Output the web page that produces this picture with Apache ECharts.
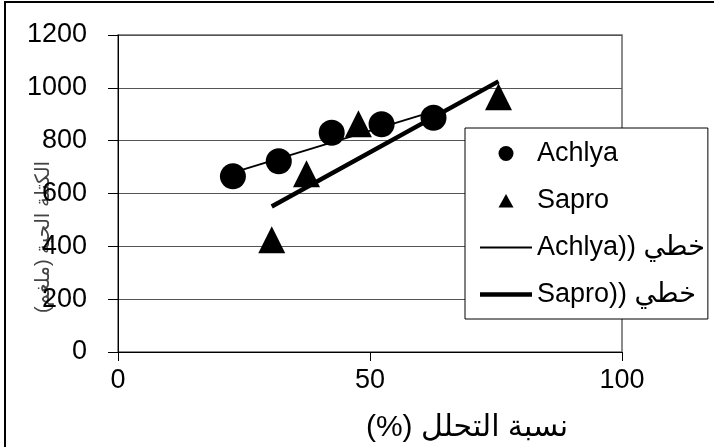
<!DOCTYPE html>
<html>
<head>
<meta charset="utf-8">
<script src="https://cdn.jsdelivr.net/npm/echarts@6/dist/echarts.min.js"></script>
<style>
  html, body { margin: 0; padding: 0; background: #fff; }
  #chart { width: 714px; height: 447px; }
</style>
</head>
<body>
<div id="chart"></div>
<script>
// Decomposition rate (%) against biomass for the two fungi
const achlyaX = [22.8, 31.9, 42.4, 52.3, 62.6];
const achlyaY = [665, 722, 830, 862, 887];
const saproX = [30.5, 37.4, 47.7, 75.5];
const saproY = [425, 675, 864, 966];

const seriesNames = ['Achlya', 'Sapro', 'Achlya)) خطي', 'Sapro)) خطي'];
const xAxisTitle = '(%) نسبة التحلل';
const yAxisTitle = 'الكتلة الحية (ملغم)';
const xTicks = [0, 50, 100];
const yTicks = [0, 200, 400, 600, 800, 1000, 1200];

const FONT = "'Liberation Sans', Arial, 'DejaVu Sans', sans-serif";

function pairs(xs, ys) {
  return xs.map((x, i) => [x, ys[i]]);
}

// Least-squares linear trend over the range of the observed x values
function linearTrend(xs, ys) {
  const n = xs.length;
  const mx = xs.reduce((a, b) => a + b, 0) / n;
  const my = ys.reduce((a, b) => a + b, 0) / n;
  let sxy = 0, sxx = 0;
  for (let i = 0; i < n; i++) {
    sxy += (xs[i] - mx) * (ys[i] - my);
    sxx += (xs[i] - mx) * (xs[i] - mx);
  }
  const slope = sxy / sxx;
  const x0 = Math.min(...xs), x1 = Math.max(...xs);
  return [[x0, my + slope * (x0 - mx)], [x1, my + slope * (x1 - mx)]];
}

// Legend icons drawn inside a fixed 52x15 box (corner points keep the box size)
const BOX = 'M0,0L0,0M52,0L52,0M52,15L52,15M0,15L0,15';
const legendTriangle = 'path://' + BOX + 'M18.5,14.5L26,1L33.5,14.5Z';
const legendThinLine = 'path://' + BOX + 'M0,6.5L52,6.5L52,8.5L0,8.5Z';
const legendThickLine = 'path://' + BOX + 'M0,5.3L52,5.3L52,9.7L0,9.7Z';

const chart = echarts.init(document.getElementById('chart'), null, { renderer: 'canvas' });

chart.setOption({
  animation: false,
  backgroundColor: '#fff',
  textStyle: { fontFamily: FONT },
  grid: {
    left: 118, right: 92, top: 35, bottom: 95,
    show: true, borderColor: '#666', borderWidth: 1.5, backgroundColor: 'transparent'
  },
  xAxis: {
    type: 'value',
    min: xTicks[0], max: xTicks[xTicks.length - 1], interval: xTicks[1] - xTicks[0],
    axisLine: { onZero: false, lineStyle: { color: '#000', width: 1 } },
    axisTick: { show: true, length: 9, lineStyle: { color: '#000' } },
    axisLabel: { color: '#000', fontSize: 27, fontFamily: FONT, margin: 15,
      formatter: (v) => String(v) },
    splitLine: { show: false }
  },
  yAxis: {
    type: 'value',
    min: yTicks[0], max: yTicks[yTicks.length - 1], interval: yTicks[1] - yTicks[0],
    axisLine: { show: true, lineStyle: { color: '#000', width: 1 } },
    axisTick: { show: true, length: 10, lineStyle: { color: '#000' } },
    axisLabel: { color: '#000', fontSize: 27, fontFamily: FONT, margin: 31,
      formatter: (v) => String(v) },
    splitLine: { show: true, lineStyle: { color: '#555', width: 1 } }
  },
  legend: {
    orient: 'vertical',
    left: 465, top: 128,
    padding: [12, 3, 11, 15],
    itemWidth: 52, itemHeight: 15, itemGap: 20,
    backgroundColor: '#fff',
    borderColor: '#000', borderWidth: 1, borderRadius: 0,
    textStyle: { color: '#000', fontSize: 27, fontFamily: FONT },
    data: [
      { name: seriesNames[0], icon: 'circle' },
      { name: seriesNames[1], icon: legendTriangle },
      { name: seriesNames[2], icon: legendThinLine },
      { name: seriesNames[3], icon: legendThickLine }
    ],
    selectedMode: false
  },
  graphic: [
    {
      type: 'rect', silent: true, z: 100,
      shape: { x: 5, y: 2, width: 800, height: 600 },
      style: { fill: 'none', stroke: '#000', lineWidth: 2 }
    },
    {
      type: 'text', silent: true,
      x: 43, y: 237, rotation: Math.PI / 2,
      style: {
        text: yAxisTitle, fill: '#444',
        font: "20px " + FONT, textAlign: 'center', textVerticalAlign: 'middle'
      }
    },
    {
      type: 'text', silent: true,
      x: 467, y: 428,
      style: {
        text: xAxisTitle, fill: '#000',
        font: "30px " + FONT, textAlign: 'center', textVerticalAlign: 'middle'
      }
    }
  ],
  series: [
    {
      name: seriesNames[0], type: 'scatter', z: 3,
      symbol: 'circle', symbolSize: 26,
      itemStyle: { color: '#000', opacity: 1 },
      data: pairs(achlyaX, achlyaY)
    },
    {
      name: seriesNames[1], type: 'scatter', z: 2,
      symbol: 'triangle', symbolSize: 27,
      itemStyle: { color: '#000', opacity: 1 },
      data: pairs(saproX, saproY)
    },
    {
      name: seriesNames[2], type: 'line', z: 4,
      symbol: 'none', silent: true,
      lineStyle: { color: '#000', width: 2 },
      itemStyle: { color: '#000' },
      data: linearTrend(achlyaX, achlyaY)
    },
    {
      name: seriesNames[3], type: 'line', z: 4,
      symbol: 'none', silent: true,
      lineStyle: { color: '#000', width: 4.5 },
      itemStyle: { color: '#000' },
      data: linearTrend(saproX, saproY)
    }
  ]
});
</script>
</body>
</html>
